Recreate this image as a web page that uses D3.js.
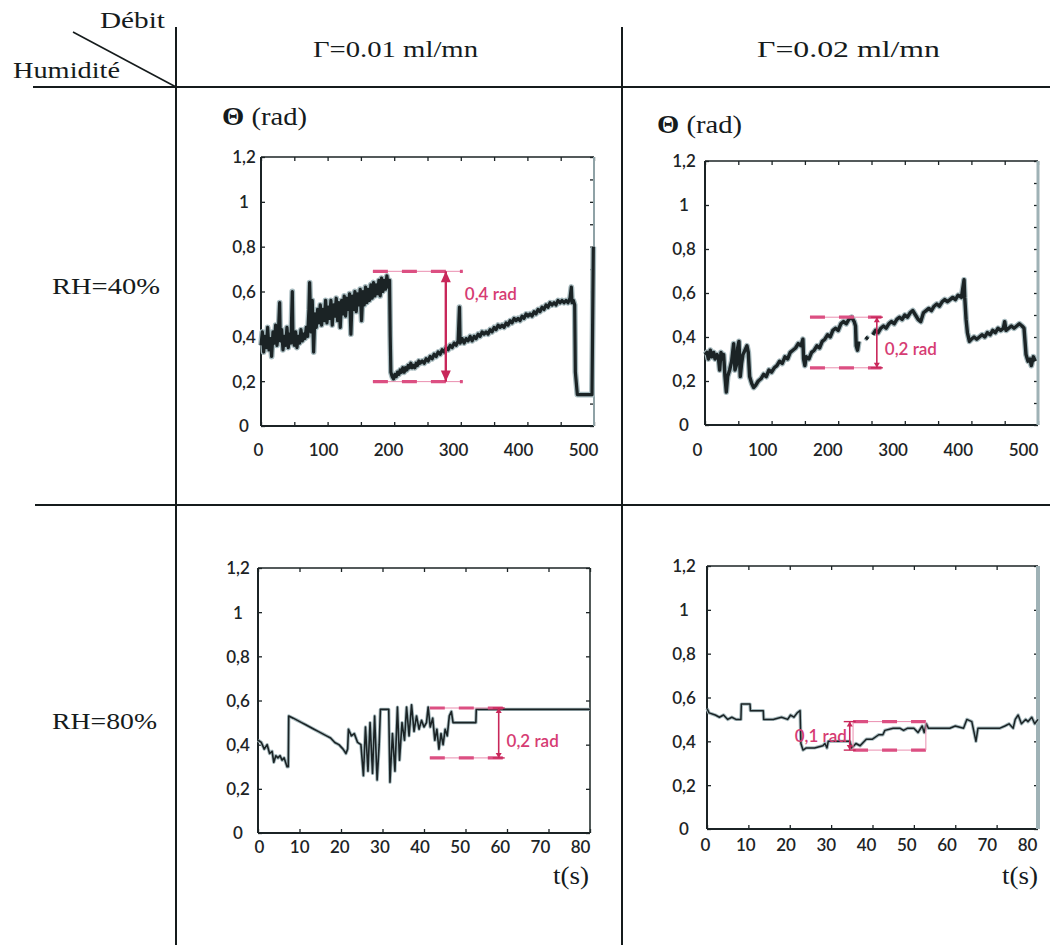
<!DOCTYPE html>
<html><head><meta charset="utf-8">
<script src="https://cdn.jsdelivr.net/npm/d3@7"></script>
<style>body{margin:0;background:#fff}svg{display:block}</style>
</head><body><svg id="c" width="1050" height="945"></svg>
<script>
// ---------- DATA ----------
const flowLabels = ["Γ=0.01 ml/mn", "Γ=0.02 ml/mn"];
const humidityLabels = ["RH=40%", "RH=80%"];
const yTickValues = [0, 0.2, 0.4, 0.6, 0.8, 1, 1.2];
const yTickLabels = ["0", "0,2", "0,4", "0,6", "0,8", "1", "1,2"];
const xTicksLong = [0, 100, 200, 300, 400, 500];
const xTicksShort = [0, 10, 20, 30, 40, 50, 60, 70, 80];
const yAxisTitle = "Θ (rad)";
const xAxisTitle = "t(s)";

// RH=40%, Γ=0.01 ml/mn  [t (s), Θ (rad)]
const traceRH40F1 = [
[0,0.36],[2,0.42],[4,0.33],[6,0.40],[8,0.35],[10,0.44],[12,0.34],[14,0.39],[16,0.31],[18,0.42],
[20,0.37],[22,0.45],[24,0.36],[26,0.41],[28,0.55],[29,0.38],[31,0.43],[33,0.34],[35,0.40],[37,0.36],
[39,0.44],[41,0.35],[43,0.41],[45,0.37],[47,0.60],[48,0.39],[50,0.36],[52,0.42],[54,0.35],[56,0.40],
[58,0.37],[60,0.43],[62,0.38],[64,0.41],[66,0.39],[68,0.44],[70,0.40],[72,0.52],[73,0.64],[75,0.42],
[77,0.56],[79,0.33],[81,0.50],[83,0.44],[85,0.52],[87,0.46],[89,0.54],[91,0.45],[93,0.52],[95,0.47],
[97,0.56],[99,0.46],[101,0.53],[103,0.48],[105,0.56],[107,0.45],[109,0.54],[111,0.49],[113,0.57],[115,0.47],
[117,0.55],[119,0.44],[121,0.56],[123,0.50],[125,0.58],[127,0.49],[129,0.57],[131,0.52],[133,0.59],[135,0.41],
[137,0.58],[139,0.52],[141,0.60],[143,0.51],[145,0.59],[147,0.54],[149,0.61],[151,0.47],[153,0.60],[155,0.54],
[157,0.62],[159,0.55],[161,0.61],[163,0.56],[165,0.63],[167,0.57],[169,0.64],[171,0.58],[173,0.63],[175,0.59],
[177,0.65],[179,0.58],[181,0.66],[183,0.60],[185,0.65],[187,0.61],[189,0.67],[191,0.62],[193,0.65],[194,0.40],
[195,0.24],[197,0.22],[199,0.21],[201,0.23],[203,0.22],[205,0.24],[207,0.23],[209,0.25],[211,0.24],[213,0.26],
[215,0.24],[217,0.26],[219,0.25],[221,0.27],[223,0.26],[225,0.28],[227,0.26],[229,0.27],[231,0.26],[233,0.28],
[235,0.27],[237,0.29],[239,0.28],[242,0.29],[245,0.28],[248,0.30],[251,0.29],[254,0.31],[257,0.30],[260,0.32],
[263,0.31],[266,0.33],[269,0.32],[272,0.34],[275,0.33],[278,0.35],[281,0.34],[284,0.36],[287,0.35],[290,0.37],
[293,0.36],[296,0.38],[298,0.53],[299,0.37],[302,0.39],[305,0.37],[308,0.39],[311,0.38],[314,0.40],[317,0.38],
[320,0.40],[323,0.39],[326,0.41],[329,0.40],[332,0.42],[335,0.41],[338,0.42],[341,0.41],[344,0.43],[347,0.42],
[350,0.44],[353,0.43],[356,0.45],[359,0.44],[362,0.45],[365,0.44],[368,0.46],[371,0.45],[374,0.47],[377,0.46],
[380,0.48],[383,0.47],[386,0.48],[389,0.47],[392,0.49],[395,0.48],[398,0.50],[401,0.49],[404,0.50],[407,0.49],
[410,0.51],[413,0.50],[416,0.52],[419,0.51],[422,0.53],[425,0.52],[428,0.54],[431,0.53],[434,0.55],[437,0.54],
[440,0.55],[443,0.54],[446,0.56],[449,0.55],[452,0.56],[455,0.55],[458,0.56],[461,0.55],[464,0.57],[466,0.62],
[467,0.55],[469,0.56],[471,0.54],[472,0.24],[475,0.14],[480,0.14],[490,0.14],[497,0.14],[499,0.80]
];

// RH=40%, Γ=0.02 ml/mn
const traceRH40F2 = [
[0,0.32],[3,0.33],[5,0.30],[8,0.34],[10,0.31],[13,0.33],[15,0.30],[18,0.32],[20,0.31],[22,0.25],
[24,0.33],[26,0.30],[28,0.32],[30,0.22],[32,0.15],[34,0.22],[37,0.25],[40,0.29],[43,0.37],[45,0.25],
[47,0.27],[49,0.35],[51,0.38],[53,0.22],[55,0.28],[57,0.32],[60,0.34],[63,0.36],[65,0.33],[67,0.22],
[70,0.19],[73,0.17],[76,0.18],[80,0.20],[84,0.21],[88,0.23],[92,0.22],[96,0.25],[100,0.24],[104,0.26],
[108,0.27],[112,0.29],[116,0.28],[120,0.31],[124,0.30],[128,0.33],[132,0.34],[136,0.35],[140,0.37],[144,0.36],
[147,0.39],[148,0.30],[150,0.27],[152,0.31],[156,0.30],[160,0.33],[164,0.34],[168,0.36],[172,0.35],[176,0.38],
[180,0.39],[184,0.41],[188,0.40],[192,0.43],[196,0.44],[200,0.43],[204,0.46],[208,0.47],[212,0.46],[216,0.48],
[220,0.49],[224,0.47],[226,0.45],[227,0.36],[229,0.34],[231,0.38],[233,null],[241,0.40],[245,0.39],[247,null],
[252,0.41],[256,0.43],[260,0.42],[264,0.44],[268,0.45],[272,0.44],[276,0.46],[280,0.47],[284,0.46],[288,0.48],
[292,0.49],[296,0.48],[300,0.50],[304,0.49],[308,0.51],[312,0.52],[316,0.50],[320,0.48],[324,0.47],[328,0.51],
[332,0.52],[336,0.53],[340,0.52],[344,0.54],[348,0.55],[352,0.54],[356,0.56],[360,0.57],[364,0.56],[368,0.57],
[372,0.58],[376,0.57],[380,0.59],[385,0.58],[389,0.66],[390,0.58],[392,0.48],[394,0.42],[397,0.38],[400,0.39],
[404,0.40],[408,0.39],[412,0.40],[416,0.41],[420,0.40],[424,0.42],[428,0.41],[432,0.43],[436,0.42],[440,0.44],
[444,0.43],[448,0.44],[450,0.47],[452,0.43],[456,0.44],[460,0.45],[464,0.44],[468,0.45],[472,0.46],[476,0.45],
[479,0.44],[482,0.32],[485,0.29],[488,0.30],[490,0.27],[493,0.31],[496,0.29]
];

// RH=80%, Γ=0.01 ml/mn
const traceRH80F1 = [
[0,0.42],[0.8,0.41],[1.5,0.38],[2.2,0.40],[2.8,0.36],[3.4,0.37],[3.8,0.32],[4.3,0.35],[4.8,0.34],[5.3,0.35],
[5.8,0.33],[6.3,0.34],[7.0,0.30],[7.3,0.30],[7.4,0.53],[8.5,0.52],[9.5,0.51],[10.5,0.50],[11.5,0.49],[12.5,0.48],
[13.5,0.47],[14.5,0.46],[15.5,0.45],[16.5,0.44],[17.5,0.43],[18.5,0.41],[19.5,0.40],[20.5,0.38],[21.2,0.36],[21.6,0.38],
[21.8,0.47],[22.5,0.44],[23.2,0.45],[24.0,0.41],[24.8,0.40],[25.4,0.26],[25.9,0.48],[26.5,0.28],[27.0,0.50],[27.6,0.27],
[28.1,0.53],[28.7,0.24],[29.2,0.40],[29.5,0.56],[31.5,0.56],[31.8,0.23],[32.4,0.45],[33.0,0.28],[33.6,0.57],[34.1,0.33],
[34.7,0.50],[35.3,0.42],[35.8,0.57],[36.4,0.44],[37.0,0.58],[37.6,0.46],[38.2,0.53],[38.8,0.47],[39.4,0.51],[40.0,0.48],
[40.6,0.50],[41.0,0.57],[41.5,0.48],[42.1,0.52],[42.6,0.42],[43.1,0.47],[43.6,0.38],[44.1,0.45],[44.6,0.40],[45.1,0.47],
[45.6,0.44],[46.1,0.53],[46.6,0.55],[47.0,0.50],[52.5,0.50],[52.6,0.56],[80,0.56]
];

// RH=80%, Γ=0.02 ml/mn
const traceRH80F2 = [
[0,0.55],[0.5,0.53],[2,0.52],[3,0.51],[4,0.52],[5,0.50],[6,0.51],[7,0.50],[8.2,0.50],[8.3,0.57],
[10.4,0.57],[10.5,0.54],[13.6,0.54],[13.7,0.50],[16,0.50],[18,0.51],[19.5,0.50],[20.2,0.52],[21,0.51],[21.8,0.53],
[22.5,0.54],[22.7,0.39],[23.2,0.36],[24,0.37],[26,0.37],[28,0.38],[28.5,0.39],[29,0.37],[29.3,0.40],[31,0.40],
[33,0.40],[34.5,0.40],[35,0.37],[36,0.39],[37,0.38],[38.5,0.41],[40,0.41],[41.5,0.43],[42.5,0.43],[43,0.45],
[45,0.46],[46.6,0.46],[47.5,0.45],[48.5,0.46],[50,0.46],[51,0.44],[52,0.47],[52.5,0.44],[53,0.48],[53.5,0.46],
[58.7,0.46],[60,0.47],[62,0.46],[62.8,0.50],[64,0.49],[65,0.40],[65.5,0.46],[70.8,0.46],[72,0.47],[73,0.48],
[74,0.46],[74.5,0.50],[75.2,0.52],[76,0.48],[77,0.50],[77.6,0.49],[78.5,0.51],[79.2,0.48],[80,0.50]
];

// amplitude annotations (data units)
const annRH40F1 = {t0:168, t1:303, vTop:0.69, vBot:0.198, tArrow:277.5, label:"0,4 rad", tLabel:306, vLabel:0.562, anchor:"start", big:true};
const annRH40F2 = {t0:157.6, t1:265, vTop:0.49, vBot:0.26, tArrow:258, label:"0,2 rad", tLabel:270, vLabel:0.318, anchor:"start"};
const annRH80F1 = {t0:41.4, t1:59, vTop:0.566, vBot:0.34, tArrow:58, label:"0,2 rad", tLabel:59.9, vLabel:0.39, anchor:"start"};
const annRH80F2 = {t0:35.3, t1:52.9, vTop:0.49, vBot:0.36, tArrow:34.5, label:"0,1 rad", tLabel:33.8, vLabel:0.397, anchor:"end", box:true};

// ---------- LAYOUT ----------
const panels = [
  {trace:traceRH40F1, ann:annRH40F1, dom:[0,500], left:261, right:594, top:157, bottom:426, minorX:50, labels:xTicksLong, labelRange:[258,583], xLabY:450, yLabX:244, rightEdge:"#8fa2a6", rightW:2, yMinor:0.1, theta:[222,125], lw:3.2, hw:5.8},
  {trace:traceRH40F2, ann:annRH40F2, dom:[0,500], left:705, right:1038, top:161, bottom:425, minorX:50, labels:xTicksLong, labelRange:[697,1023], xLabY:450, yLabX:684, rightEdge:"#9fb2b6", rightW:3, yMinor:0.1, theta:[657,133], lw:3.4, hw:5.8},
  {trace:traceRH80F1, ann:annRH80F1, dom:[0,80], left:258, right:590, top:568, bottom:833, minorX:10, labels:xTicksShort, labelRange:[259,580], xLabY:847, yLabX:238, rightEdge:"#26302f", rightW:1.6, yMinor:0.2, tLab:[553,884], lw:1.6, hw:3.4},
  {trace:traceRH80F2, ann:annRH80F2, dom:[0,80], left:707, right:1038, top:566, bottom:829, minorX:10, labels:xTicksShort, labelRange:[705,1027], xLabY:845, yLabX:684, rightEdge:"#9fb2b6", rightW:4, yMinor:0.2, tLab:[1002,884], lw:1.5, hw:3.4}
];

const INK = "#1b2325", HALO = "#a7babe", PINK = "#dc4f82", PINK_THIN = "#ea8fb0", CRIMSON = "#c8275a";
const SERIF = "'Liberation Serif','Times New Roman',serif";
const SANS = "Lato,'Open Sans',sans-serif";

const svg = d3.select("#c");

// table lines
const grid = svg.append("g").attr("stroke", "#151b1c").attr("stroke-width", 2);
grid.append("line").attr("x1", 33).attr("x2", 1050).attr("y1", 87).attr("y2", 87);
grid.append("line").attr("x1", 35).attr("x2", 1050).attr("y1", 505).attr("y2", 505);
grid.append("line").attr("x1", 176).attr("x2", 176).attr("y1", 27).attr("y2", 945);
grid.append("line").attr("x1", 622).attr("x2", 622).attr("y1", 27).attr("y2", 945);
grid.append("line").attr("x1", 73).attr("x2", 176).attr("y1", 32).attr("y2", 87).attr("stroke-width", 1.6);

function txt(s, x, y, size, len, opts = {}) {
  const t = svg.append("text").attr("x", x).attr("y", y).text(s)
    .attr("font-family", opts.family || SERIF).attr("font-size", size)
    .attr("fill", opts.fill || "#151b1c");
  if (len) t.attr("textLength", len).attr("lengthAdjust", "spacingAndGlyphs");
  if (opts.weight) t.attr("font-weight", opts.weight);
  return t;
}
txt("Débit", 100, 28, 23, 65);
txt("Humidité", 13, 78, 23, 107);
txt(flowLabels[0], 313, 57, 24, 165);
txt(flowLabels[1], 757, 57, 24, 183);
txt(humidityLabels[0], 52, 294, 24, 108);
txt(humidityLabels[1], 52, 729, 24, 105);

panels.forEach(p => {
  const x = d3.scaleLinear().domain(p.dom).range([p.left, p.right]);
  const y = d3.scaleLinear().domain([0, 1.2]).range([p.bottom, p.top]);
  const g = svg.append("g");

  // frame + inward ticks
  const minorXs = d3.range(p.dom[0], p.dom[1] + 0.001, p.minorX);
  const styleAxis = sel => { sel.select(".domain").remove(); sel.selectAll("line").attr("stroke", INK).attr("stroke-width", 1.3); };
  g.append("g").attr("transform", `translate(0,${p.bottom})`).call(d3.axisBottom(x).tickValues(minorXs).tickSize(-4).tickFormat("")).call(styleAxis);
  g.append("g").attr("transform", `translate(0,${p.top})`).call(d3.axisTop(x).tickValues(minorXs).tickSize(-4).tickFormat("")).call(styleAxis);
  g.append("g").attr("transform", `translate(${p.left},0)`).call(d3.axisLeft(y).tickValues(yTickValues).tickSize(-4).tickFormat("")).call(styleAxis);
  g.append("g").attr("transform", `translate(${p.right},0)`).call(d3.axisRight(y).tickValues(d3.range(0, 1.2001, p.yMinor)).tickSize(-4).tickFormat("")).call(styleAxis);

  g.append("line").attr("x1", p.left).attr("x2", p.right).attr("y1", p.top).attr("y2", p.top).attr("stroke", INK).attr("stroke-width", 1.5);
  g.append("line").attr("x1", p.left).attr("x2", p.right).attr("y1", p.bottom).attr("y2", p.bottom).attr("stroke", INK).attr("stroke-width", 2);
  g.append("line").attr("x1", p.left).attr("x2", p.left).attr("y1", p.top).attr("y2", p.bottom).attr("stroke", INK).attr("stroke-width", 2);
  g.append("line").attr("x1", p.right).attr("x2", p.right).attr("y1", p.top).attr("y2", p.bottom).attr("stroke", p.rightEdge).attr("stroke-width", p.rightW);

  // tick labels
  const xl = d3.scaleLinear().domain(p.dom).range(p.labelRange);
  const xa = g.append("g").attr("transform", `translate(0,${p.xLabY})`)
    .call(d3.axisBottom(xl).tickValues(p.labels).tickSize(0).tickFormat(d3.format("d")));
  xa.select(".domain").remove();
  xa.selectAll("text").attr("y", 0).attr("dy", "0.35em").attr("font-family", SANS).attr("font-size", 17).attr("font-weight", 600).attr("fill", "#1d2426");

  const ya = g.append("g").attr("transform", `translate(${p.yLabX},0)`)
    .call(d3.axisLeft(y).tickValues(yTickValues).tickSize(0).tickFormat((d, i) => yTickLabels[i]));
  ya.select(".domain").remove();
  ya.selectAll("text").attr("x", 0).attr("dy", "0.35em").attr("text-anchor", "middle").attr("font-family", SANS).attr("font-size", 17).attr("font-weight", 600).attr("fill", "#1d2426");

  // trace
  const line = d3.line().defined(d => d[1] != null).x(d => x(d[0])).y(d => y(d[1]));
  g.append("path").datum(p.trace).attr("d", line).attr("fill", "none").attr("stroke", HALO).attr("stroke-width", p.hw).attr("stroke-linejoin", "round");
  g.append("path").datum(p.trace).attr("d", line).attr("fill", "none").attr("stroke", INK).attr("stroke-width", p.lw).attr("stroke-linejoin", "round");

  // annotation
  const a = p.ann;
  const x0 = x(a.t0), x1 = x(a.t1), yT = y(a.vTop), yB = y(a.vBot), xA = x(a.tArrow);
  const ag = g.append("g");
  [yT, yB].forEach(yy => {
    ag.append("line").attr("x1", x0).attr("x2", x1).attr("y1", yy).attr("y2", yy).attr("stroke", PINK_THIN).attr("stroke-width", 1);
    ag.append("line").attr("x1", x0).attr("x2", x1).attr("y1", yy).attr("y2", yy).attr("stroke", PINK).attr("stroke-width", 3.2).attr("stroke-dasharray", "15,14");
  });
  if (a.box) {
    [x0, x1].forEach(xx => ag.append("line").attr("x1", xx).attr("x2", xx).attr("y1", yT).attr("y2", yB).attr("stroke", PINK_THIN).attr("stroke-width", 1));
  }
  ag.append("line").attr("x1", xA).attr("x2", xA).attr("y1", yT).attr("y2", yB).attr("stroke", CRIMSON).attr("stroke-width", a.big ? 2.4 : 1.6);
  const hw = a.big ? 5 : 3, hl = a.big ? 11 : 5;
  ag.append("path").attr("d", `M${xA},${yT}L${xA - hw},${yT + hl}L${xA + hw},${yT + hl}Z`).attr("fill", CRIMSON);
  ag.append("path").attr("d", `M${xA},${yB}L${xA - hw},${yB - hl}L${xA + hw},${yB - hl}Z`).attr("fill", CRIMSON);
  if (!a.big) {
    [yT, yB].forEach(yy => ag.append("line").attr("x1", xA - 6).attr("x2", xA + 6).attr("y1", yy).attr("y2", yy).attr("stroke", CRIMSON).attr("stroke-width", 1.4));
  }
  ag.append("text").attr("x", x(a.tLabel)).attr("y", y(a.vLabel)).attr("text-anchor", a.anchor).text(a.label)
    .attr("font-family", SANS).attr("font-size", 17).attr("font-weight", 600).attr("fill", "#d63c73");

  if (p.theta) {
    const t = svg.append("text").attr("x", p.theta[0]).attr("y", p.theta[1]).attr("font-family", SERIF).attr("font-size", 25).attr("fill", "#151b1c")
      .attr("textLength", 85).attr("lengthAdjust", "spacingAndGlyphs");
    t.append("tspan").text(yAxisTitle.slice(0, 1)).attr("font-weight", "bold");
    t.append("tspan").text(yAxisTitle.slice(1));
  }
  if (p.tLab) txt(xAxisTitle, p.tLab[0], p.tLab[1], 25, 36);
});
</script></body></html>
